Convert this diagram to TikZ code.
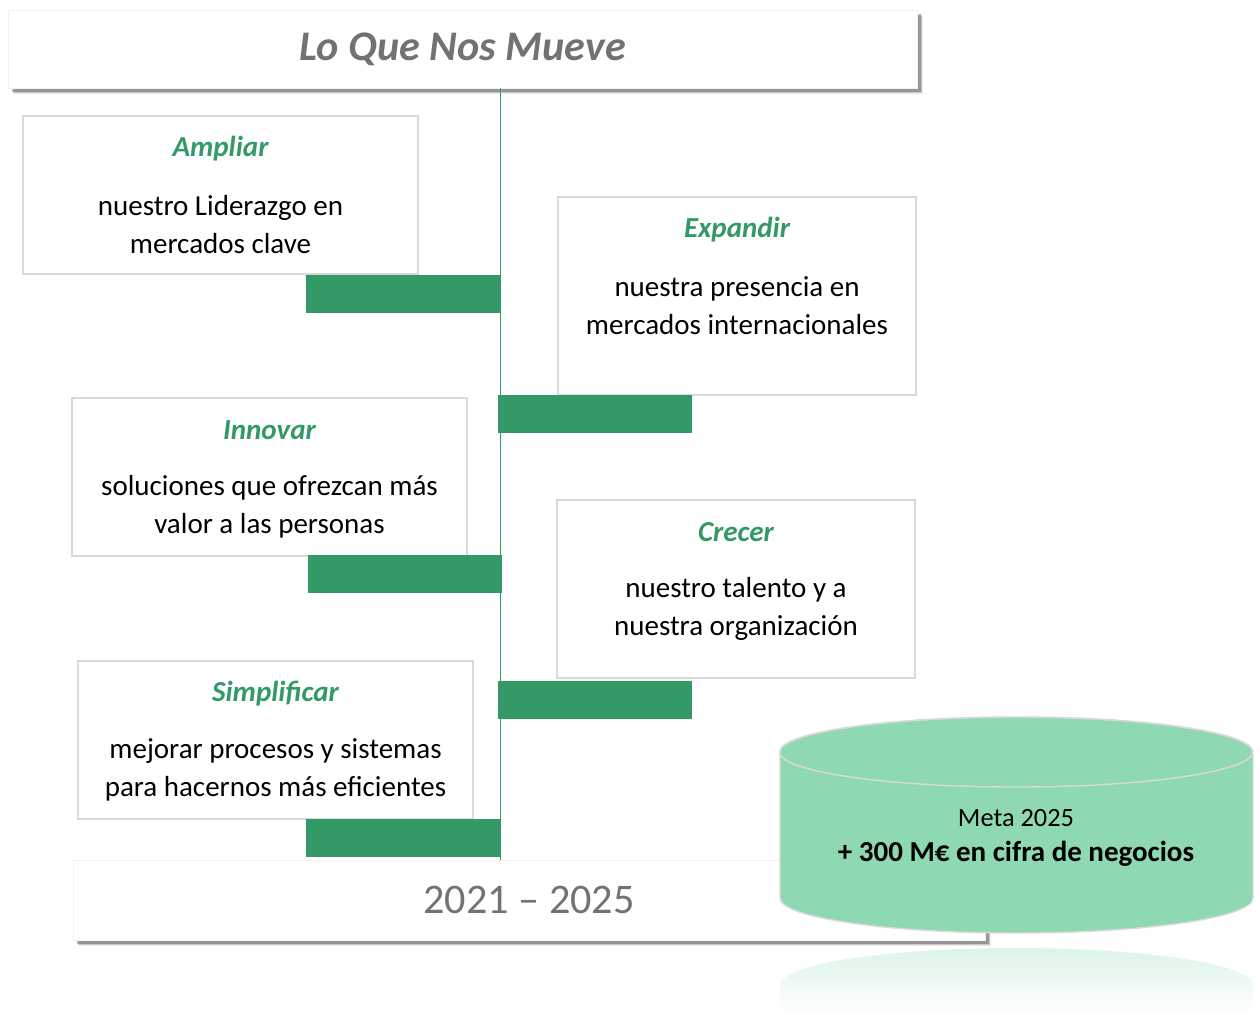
\documentclass[tikz,border=0pt]{standalone}
\usepackage{fontspec}
\setmainfont{Carlito}
\usetikzlibrary{shadows}
\definecolor{leaf}{HTML}{339966}
\definecolor{mint}{HTML}{8ED9B2}
\definecolor{slate}{HTML}{767171}
\definecolor{rim}{HTML}{D9D9D9}
\begin{document}
\begin{tikzpicture}[x=0.2mm,y=-0.2mm]
    \tikzstyle{card} = [rectangle, draw=rim, line width=0.8pt, fill=white, inner sep=0pt]
    \tikzstyle{wide} = [card, minimum width=79mm, minimum height=31.6mm]
    \tikzstyle{narrow} = [card, minimum width=71.6mm]
    \tikzstyle{bar} = [rectangle, fill=leaf, minimum width=38.8mm, minimum height=7.6mm, inner sep=0pt]
    \tikzstyle{head} = [text=leaf, inner sep=0pt, font=\fontsize{16.5}{20}\selectfont\bfseries\itshape]
    \tikzstyle{body} = [align=center, inner sep=0pt, font=\fontsize{16.5}{21.5}\selectfont]
    \tikzstyle{banner} = [rectangle, fill=white, draw=black!5, inner sep=0pt, text=slate,
        drop shadow={shadow xshift=3.2pt, shadow yshift=-3.6pt, fill=black, opacity=.08},
        drop shadow={shadow xshift=2.6pt, shadow yshift=-2.8pt, fill=black, opacity=.15},
        drop shadow={shadow xshift=2pt, shadow yshift=-2pt, fill=black, opacity=.25}]
    \tikzstyle{line} = [draw=leaf, line width=0.6pt]

    \useasboundingbox (0,0) rectangle (1260,1014);
    %
    \node [banner, minimum width=181.8mm, minimum height=15.6mm,
        font=\fontsize{24}{28}\selectfont\bfseries\itshape] (title) at (462.5,49) {Lo Que Nos Mueve};
    \node [banner, minimum width=182.4mm, minimum height=16mm,
        font=\fontsize{24}{28}\selectfont] (years) at (529,900) {2021 -- 2025};
    %
    \node [wide] (b1) at (220.5,195) {};
    \node [head, yshift=-6.6mm] (h1) at (b1.north) {Ampliar};
    \node [body, below of=h1, node distance=15.3mm] (t1) {nuestro Liderazgo en\\mercados clave};
    %
    \node [narrow, minimum height=39.6mm] (b2) at (737,296) {};
    \node [head, yshift=-6.6mm] (h2) at (b2.north) {Expandir};
    \node [body, below of=h2, node distance=15.3mm] (t2) {nuestra presencia en\\mercados internacionales};
    %
    \node [wide] (b3) at (269.5,477) {};
    \node [head, yshift=-6.6mm] (h3) at (b3.north) {Innovar};
    \node [body, below of=h3, node distance=15.3mm] (t3) {soluciones que ofrezcan más\\valor a las personas};
    %
    \node [narrow, minimum height=35.6mm] (b4) at (736,589) {};
    \node [head, yshift=-6.6mm] (h4) at (b4.north) {Crecer};
    \node [body, below of=h4, node distance=15.3mm] (t4) {nuestro talento y a\\nuestra organización};
    %
    \node [wide] (b5) at (275.5,740) {};
    \node [head, yshift=-6.6mm] (h5) at (b5.north) {Simplificar};
    \node [body, below of=h5, node distance=15.3mm] (t5) {mejorar procesos y sistemas\\para hacernos más eficientes};
    %
    \node [bar] (bar1) at (403,294) {};
    \node [bar] (bar2) at (595,414) {};
    \node [bar] (bar3) at (405,574) {};
    \node [bar] (bar4) at (595,700) {};
    \node [bar] (bar5) at (403,838) {};
    \path [line] (title.south -| bar1.east) -- (years.north -| bar1.east);
    %
    \path [fill=mint, draw=rim, line width=0.8pt] (780,752) -- (780,898)
        arc[start angle=180, end angle=0, x radius=236.5, y radius=35] -- (1253,752)
        arc[start angle=360, end angle=180, x radius=236.5, y radius=35] -- cycle;
    \draw [rim, line width=0.8pt] (1016,752) ellipse [x radius=236.5, y radius=35];
    \node [font=\fontsize{15}{18}\selectfont] (goal) at (1016,818) {Meta 2025};
    \node [font=\fontsize{16.5}{20}\selectfont\bfseries, below of=goal, node distance=7.2mm] (amount)
        {+ 300 M€ en cifra de negocios};
    \shade [top color=mint!30, bottom color=white] (780,1014) -- (780,985)
        arc[start angle=180, end angle=360, x radius=236.5, y radius=37] -- (1253,1014) -- cycle;

\end{tikzpicture}
\end{document}
